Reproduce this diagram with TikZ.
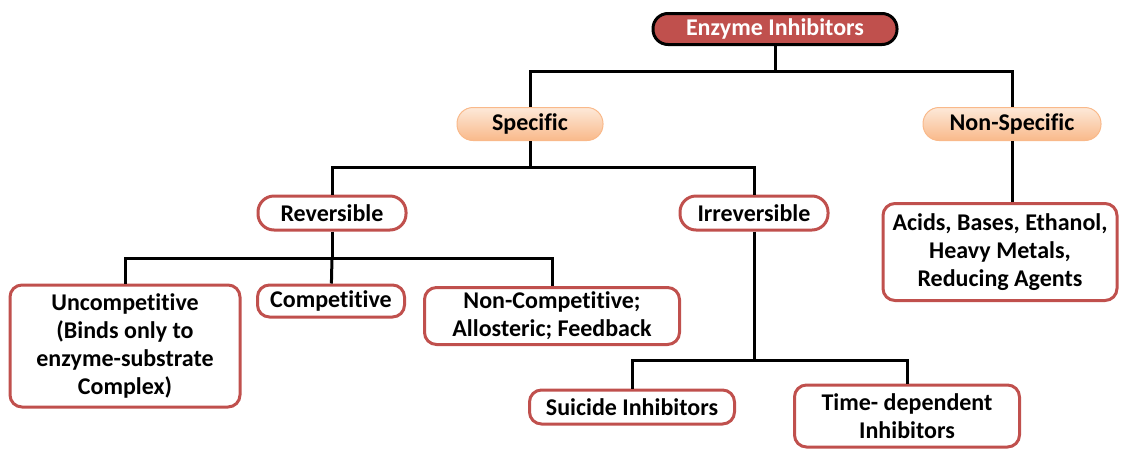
\documentclass[tikz,border=0pt]{standalone}
\usepackage{fontspec}
\setmainfont[Ligatures=NoCommon]{Carlito}
\definecolor{boxred}{HTML}{C0504D}
\definecolor{peachtop}{HTML}{FDE9D9}
\definecolor{peachbot}{HTML}{F9B98A}
\begin{document}
\begin{tikzpicture}
		[x=1pt,y=-1pt,line width=3pt,
		 every node/.style={font=\fontsize{24}{28}\selectfont\bfseries,align=center,inner sep=0pt},
		 root/.style={rounded corners=15pt,fill=boxred,draw=black,text=white,minimum width=244pt,minimum height=31pt},
		 cls/.style={rounded corners=16pt,top color=peachtop,bottom color=peachbot,draw=peachbot,line width=1pt,minimum height=33pt},
		 pill/.style={rounded corners=16pt,draw=boxred,fill=white,minimum width=148pt,minimum height=34pt},
		 box/.style={rounded corners=12pt,draw=boxred,fill=white}]

		\useasboundingbox (0,0) rectangle (1127,448);

		\node[root] (ei) at (775,29) {Enzyme Inhibitors};

		\node[cls,minimum width=146pt] (sp) at (530,124) {Specific};
		\node[cls,minimum width=178pt] (ns) at (1012,124) {Non-Specific};

		\node[pill] (rev) at (332,213) {Reversible};
		\node[pill] (irr) at (754,213) {Irreversible};

		\node[box,minimum width=234pt,minimum height=97pt] (acid) at (1000,252) {Acids, Bases, Ethanol,\\Heavy Metals,\\Reducing Agents};

		\node[box,minimum width=230pt,minimum height=122pt] (unc) at (125,346) {Uncompetitive\\(Binds only to\\enzyme-substrate\\Complex)};
		\node[box,minimum width=147pt,minimum height=32pt] (comp) at (331,301) {Competitive};
		\node[box,minimum width=255pt,minimum height=57pt] (ncomp) at (552,316) {Non-Competitive;\\Allosteric; Feedback};

		\node[box,minimum width=205pt,minimum height=34pt] (sui) at (632,407) {Suicide Inhibitors};
		\node[box,minimum width=225pt,minimum height=62pt] (time) at (907,416) {Time- dependent\\Inhibitors};

		% branch points
		\coordinate (j0) at (775,71);
		\coordinate (j1) at (530,167);
		\coordinate (j2) at (332,258);
		\coordinate (j3) at (754,360);

		\draw (ei) -- (j0) -| (sp);
		\draw (j0) -| (ns);
		\draw (ns) -- (ns |- acid.north);

		\draw (sp) -- (j1);
		\draw (rev) |- (j1) -| (irr);

		\draw (rev) -- (j2);
		\draw (unc) |- (j2) -| (ncomp);
		\draw (j2) -- (comp);

		\draw (irr) -- (j3);
		\draw (sui) |- (j3) -| (time);

	\end{tikzpicture}
\end{document}
